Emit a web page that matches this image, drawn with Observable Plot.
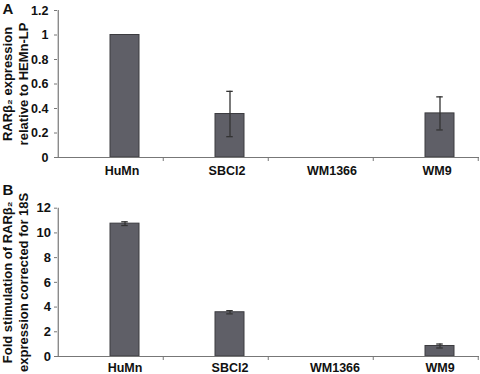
<!DOCTYPE html>
<html><head><meta charset="utf-8">
<script src="https://cdn.jsdelivr.net/npm/d3@7"></script>
<script src="https://cdn.jsdelivr.net/npm/@observablehq/plot@0.6"></script>
<style>
body{margin:0;background:#fff;}
#chart{width:480px;}
#chart svg{display:block;}
</style>
</head><body><div id="chart"></div>
<script>
const categories = ["HuMn", "SBCl2", "WM1366", "WM9"];
const valuesA = [1.0, 0.355, 0, 0.36];
const errorsA = [0, 0.185, 0, 0.135];
const valuesB = [10.75, 3.58, 0, 0.85];
const errorsB = [0.15, 0.13, 0, 0.16];
const ticksA = [0, 0.2, 0.4, 0.6, 0.8, 1, 1.2];
const ticksB = [0, 2, 4, 6, 8, 10, 12];

const font = "'Liberation Sans', Arial, sans-serif";
const barFill = "#5f5f67";
const barStroke = "#3c3c40";
const axisColor = "#777";

function panel({values, errors, ticks, domain, letter, title, height, marginTop, marginBottom, labelDy, labelDx, letterDy, tickPad, fontSize}) {
  const data = categories.map((c, i) => ({c, v: values[i], e: errors[i]}));
  const shown = data.filter(d => d.v > 0);
  const withErr = data.filter(d => d.e > 0);
  const fmt = d => String(+d.toFixed(1));
  const half = (480 - 57 - 1) / categories.length / 2;
  return Plot.plot({
    width: 480, height, marginLeft: 57, marginRight: 1, marginTop, marginBottom,
    style: {fontFamily: font, fontWeight: "bold", fontSize: "12px", color: "#111", background: "#fff", overflow: "visible"},
    x: {domain: categories, padding: 0, axis: null},
    y: {domain, axis: null},
    marks: [
      Plot.barY(shown, {x: "c", y: "v", fill: barFill, stroke: barStroke, strokeWidth: 1, insetLeft: 52, insetRight: 24}),
      Plot.ruleX(withErr, {x: "c", y1: d => d.v - d.e, y2: d => d.v + d.e, stroke: "#333", strokeWidth: 1.3, dx: 14}),
      Plot.tickY(withErr, {x: "c", y: d => d.v + d.e, stroke: "#333", strokeWidth: 1.3, insetLeft: 63.25, insetRight: 35.25}),
      Plot.tickY(withErr, {x: "c", y: d => d.v - d.e, stroke: "#333", strokeWidth: 1.3, insetLeft: 63.25, insetRight: 35.25}),
      // y axis line
      Plot.ruleX([categories[0]], {x: d => d, y1: domain[0], y2: domain[1], dx: -half, stroke: axisColor, strokeWidth: 1.2}),
      Plot.axisY({ticks, tickFormat: fmt, tickSize: 3, tickPadding: tickPad, stroke: axisColor, fontSize, fontWeight: "bold", fill: "#111", label: null}),
      // x axis line and boundary ticks
      Plot.ruleY([domain[0]], {stroke: axisColor, strokeWidth: 1.2}),
      Plot.ruleX(categories.slice(1), {x: d => d, y1: domain[0], y2: domain[0], dx: -half, insetBottom: -4, stroke: axisColor}),
      Plot.ruleX([categories[categories.length - 1]], {x: d => d, y1: domain[0], y2: domain[0], dx: half - 0.5, insetBottom: -4, stroke: axisColor}),
      Plot.axisX({tickSize: 0, tickPadding: labelDy, dx: labelDx, fontSize: 12.5, fontWeight: "bold", fill: "#111", label: null}),
      // y title
      Plot.text([title], {frameAnchor: "left", text: d => d, rotate: -90, dx: -42.5, textAnchor: "middle", lineAnchor: "middle", lineHeight: 1.2, fontSize: 13, fontWeight: "bold", fill: "#111"}),
      // panel letter
      Plot.text([letter], {frameAnchor: "top-left", text: d => d, dx: -55, dy: letterDy, textAnchor: "start", lineAnchor: "top", fontSize: 15, fontWeight: "bold", fill: "#111"})
    ]
  });
}

const el = document.getElementById("chart");
el.append(panel({values: valuesA, errors: errorsA, ticks: ticksA, domain: [0, 1.2], letter: "A",
  title: "RARβ₂ expression\nrelative to HEMn-LP", height: 185, marginTop: 10, marginBottom: 28,
  labelDy: 9, labelDx: 11, letterDy: -7.5, tickPad: 6, fontSize: 12.5}));
el.append(panel({values: valuesB, errors: errorsB, ticks: ticksB, domain: [0, 12], letter: "B",
  title: "Fold stimulation of RARβ₂\nexpression corrected for 18S", height: 189, marginTop: 22.7, marginBottom: 18,
  labelDy: 7, labelDx: 14, letterDy: -24, tickPad: 3.5, fontSize: 13}));
</script>
</body></html>
